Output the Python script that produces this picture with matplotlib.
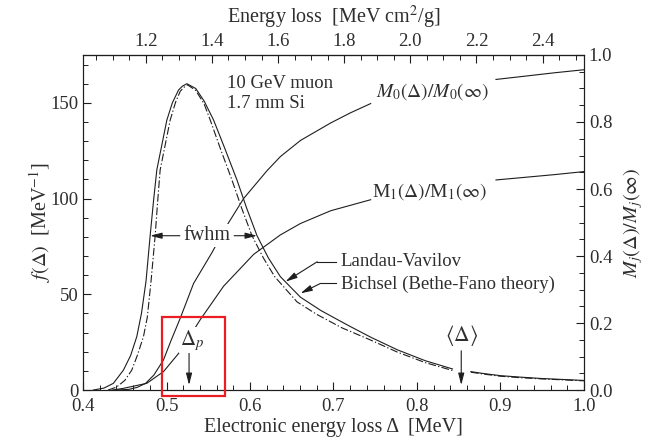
import matplotlib
matplotlib.use("Agg")
import matplotlib.pyplot as plt
import numpy as np
from matplotlib.patches import Rectangle
from matplotlib.ticker import MultipleLocator, FormatStrFormatter

plt.rcParams["font.family"] = "serif"
plt.rcParams["font.serif"] = ["Liberation Serif", "DejaVu Serif"]
plt.rcParams["mathtext.fontset"] = "stix"

RHO_T = 0.396  # g/cm^2, 1.7 mm of Si

# ---- data ----
# Bichsel (Bethe-Fano theory), solid; nan marks the gap at <Delta>
bichsel_delta = [0.4124, 0.425, 0.4364, 0.4484, 0.457, 0.4644, 0.470, 0.4755, 0.4804, 0.4845,
                 0.4884, 0.5004, 0.507, 0.5144, 0.519, 0.5244, 0.535, 0.545, 0.5564, 0.570,
                 0.5844, 0.596, 0.6084, 0.622, 0.6364, 0.6604, 0.685, 0.7165, 0.745, 0.7765,
                 0.81, 0.8425, np.nan, 0.8645, 0.88, 0.90, 0.925, 0.95, 0.975, 1.0]
bichsel_f = [0.0, 1.0, 3.5, 10.4, 18.0, 27.9, 40.0, 57.0, 80.6, 99.0,
             115.0, 141.0, 150.0, 156.7, 158.7, 160.0, 157.5, 151.0, 141.0, 126.0,
             109.7, 95.0, 80.6, 69.0, 59.2, 48.5, 41.5, 34.0, 27.5, 21.0,
             15.3, 11.0, np.nan, 9.6, 8.6, 7.5, 6.7, 6.0, 5.5, 5.0]

# Landau-Vavilov, dot-dashed
lv_delta = [0.430, 0.440, 0.450, 0.4584, 0.465, 0.4724, 0.477, 0.4815, 0.4864, 0.4895,
            0.4924, 0.5044, 0.511, 0.5164, 0.5205, 0.5252, 0.535, 0.545, 0.5524, 0.565,
            0.5784, 0.590, 0.6024, 0.616, 0.6296, 0.6564, 0.68, 0.71, 0.745, 0.7765,
            0.81, 0.8425, np.nan, 0.8645, 0.88, 0.90, 0.925, 0.95, 0.975, 1.0]
lv_f = [0.0, 1.5, 5.0, 10.4, 18.0, 27.9, 38.0, 57.0, 80.6, 99.0,
        115.0, 141.0, 150.5, 156.0, 158.0, 159.4, 156.5, 149.5, 141.0, 125.5,
        109.7, 95.0, 80.6, 69.0, 59.2, 46.0, 39.5, 32.5, 26.0, 19.8,
        14.3, 10.2, np.nan, 9.3, 8.3, 7.2, 6.4, 5.8, 5.3, 4.8]

# cumulative fractions M0, M1 (right axis); nan marks the gap at the labels
m0_delta = [0.440, 0.455, 0.465, 0.475, 0.485, 0.4964, 0.505, 0.5164, 0.5324, 0.5544,
            0.5725, 0.5925, 0.6205, 0.6365, 0.6605, 0.6965, 0.72, 0.7445,
            np.nan, 0.8946, 0.93, 0.965, 1.0]
m0_frac = [0.0, 0.002, 0.008, 0.02, 0.045, 0.09, 0.145, 0.214, 0.318, 0.41,
           0.492, 0.572, 0.655, 0.697, 0.745, 0.797, 0.827, 0.855,
           np.nan, 0.927, 0.937, 0.947, 0.956]

m1_delta = [0.435, 0.4484, 0.4764, 0.4964, 0.5164, 0.5404, 0.5684, 0.6044, 0.6364, 0.6604,
            0.6965, 0.7445, np.nan, 0.8946, 0.93, 0.965, 1.0]
m1_frac = [0.0, 0.005, 0.02, 0.055, 0.115, 0.21, 0.31, 0.405, 0.463, 0.497,
           0.535, 0.568, np.nan, 0.627, 0.635, 0.643, 0.652]

delta_p = 0.527
delta_mean = 0.853
fwhm_lo, fwhm_hi, fwhm_level = 0.4804, 0.6084, 80.6

INK = "#1e1e1e"
TXT = "#2e2e2e"
RED = "#ec1c24"
FS = 13.5
LW = 0.8
head = "-|>,head_length=0.7,head_width=0.18"


def style_ticks(axis):
    axis.tick_params(which="both", direction="in", color=INK, labelcolor=TXT, labelsize=FS)
    axis.tick_params(which="major", length=6, width=0.8)
    axis.tick_params(which="minor", length=3.5, width=0.7)


fig = plt.figure(figsize=(6.45, 4.41), dpi=100)
ax = fig.add_axes([0.1287, 0.1156, 0.7767, 0.7597])

ax.plot(bichsel_delta, bichsel_f, color=INK, lw=LW)
ax.plot(lv_delta, lv_f, color=INK, lw=LW, ls=(0, (7, 2, 1.2, 2)))

ax.set_xlim(0.4, 1.0)
ax.set_ylim(0, 175)
ax.xaxis.set_major_locator(MultipleLocator(0.1))
ax.xaxis.set_minor_locator(MultipleLocator(0.02))
ax.xaxis.set_major_formatter(FormatStrFormatter("%.1f"))
ax.yaxis.set_major_locator(MultipleLocator(50))
ax.yaxis.set_minor_locator(MultipleLocator(10))
style_ticks(ax)
ax.tick_params(axis="x", which="major", pad=6)
ax.set_xlabel("Electronic energy loss Δ  [MeV]", fontsize=14.5, color=TXT, labelpad=2)
ax.set_ylabel(r"$f(\Delta)$  [MeV$^{-1}$]", fontsize=14.5, color=TXT, labelpad=-2)
for s in ax.spines.values():
    s.set_color(INK)
    s.set_linewidth(0.8)

# right axis: moments
ax2 = ax.twinx()
ax2.set_ylim(0, 1)
ax2.plot(m0_delta, m0_frac, color=INK, lw=LW)
ax2.plot(m1_delta, m1_frac, color=INK, lw=LW)
ax2.yaxis.set_major_locator(MultipleLocator(0.2))
ax2.yaxis.set_minor_locator(MultipleLocator(0.05))
ax2.yaxis.set_major_formatter(FormatStrFormatter("%.1f"))
style_ticks(ax2)
ax2.set_ylabel(r"$M_j(\Delta)/M_j(\infty)$", fontsize=14.5, color=TXT, labelpad=6)
for s in ax2.spines.values():
    s.set_color(INK)
    s.set_linewidth(0.8)

# top axis: energy loss per unit mass thickness
top = ax.secondary_xaxis("top", functions=(lambda d: np.asarray(d) / RHO_T,
                                           lambda e: np.asarray(e) * RHO_T))
top.xaxis.set_major_locator(MultipleLocator(0.2))
top.xaxis.set_minor_locator(MultipleLocator(0.05))
top.xaxis.set_major_formatter(FormatStrFormatter("%.1f"))
style_ticks(top)
top.set_xlabel("Energy loss  [MeV cm$^2$/g]", fontsize=14.5, color=TXT, labelpad=7)
top.spines["top"].set_color(INK)
top.spines["top"].set_linewidth(0.8)

# annotations
ax.text(0.5725, 160, "10 GeV muon", fontsize=FS, color=TXT, va="center", ha="left")
ax.text(0.5725, 149.8, "1.7 mm Si", fontsize=FS, color=TXT, va="center", ha="left")
ax2.text(0.7505, 0.890, r"$M_0(\Delta)/M_0(\infty)$", fontsize=FS + 0.5, color=TXT,
         va="center", ha="left")
ax2.text(0.7466, 0.591, r"M$_1(\Delta)/$M$_1(\infty)$", fontsize=FS + 0.5, color=TXT,
         va="center", ha="left")

ax.text(0.7085, 67, "Landau-Vavilov", fontsize=FS, color=TXT, va="center", ha="left")
ax.plot([0.7025, 0.6805], [67, 67], color=INK, lw=0.8)
ax.annotate("", xy=(0.6425, 56.6), xytext=(0.6805, 67),
            arrowprops=dict(arrowstyle=head, color=INK, lw=0.8, shrinkA=0, shrinkB=0))
ax.text(0.7085, 55.4, "Bichsel (Bethe-Fano theory)", fontsize=FS, color=TXT,
        va="center", ha="left")
ax.plot([0.7025, 0.6845], [55.7, 55.7], color=INK, lw=0.8)
ax.annotate("", xy=(0.6605, 50.5), xytext=(0.6845, 55.7),
            arrowprops=dict(arrowstyle=head, color=INK, lw=0.8, shrinkA=0, shrinkB=0))

# fwhm
ax2.text(0.548, fwhm_level, "fwhm", transform=ax.transData, fontsize=FS + 1, color=TXT,
         ha="center", va="center", zorder=6,
         bbox=dict(fc="white", ec="none", pad=1.5))
ax.annotate("", xy=(fwhm_lo, fwhm_level), xytext=(0.516, fwhm_level),
            arrowprops=dict(arrowstyle=head, color=INK, lw=0.8, shrinkA=0, shrinkB=0))
ax.annotate("", xy=(fwhm_hi, fwhm_level), xytext=(0.581, fwhm_level),
            arrowprops=dict(arrowstyle=head, color=INK, lw=0.8, shrinkA=0, shrinkB=0))

# most probable value
ax2.text(delta_p + 0.0035, 26, r"$\Delta_p$", transform=ax.transData, fontsize=FS + 1.5,
         color=TXT, ha="center", va="center", zorder=6,
         bbox=dict(fc="white", ec="none", pad=0.5))
ax2.annotate("", xy=(delta_p, 2.6), xytext=(delta_p, 20.5), xycoords=ax.transData,
             textcoords=ax.transData,
             arrowprops=dict(arrowstyle=head, color=INK, lw=0.8, shrinkA=0, shrinkB=0))

# mean
ax.text(delta_mean, 28.5, r"$\langle\Delta\rangle$", fontsize=FS + 2, color=TXT,
        ha="center", va="center")
ax.annotate("", xy=(delta_mean, 2.6), xytext=(delta_mean, 20.5),
            arrowprops=dict(arrowstyle=head, color=INK, lw=0.8, shrinkA=0, shrinkB=0))

# highlight box around Delta_p
ax2.add_patch(Rectangle((0.4952, -3.0), 0.0744, 41.3, transform=ax.transData, fill=False,
                        ec=RED, lw=1.6, clip_on=False, zorder=10))

fig.savefig("out.png", dpi=100)
